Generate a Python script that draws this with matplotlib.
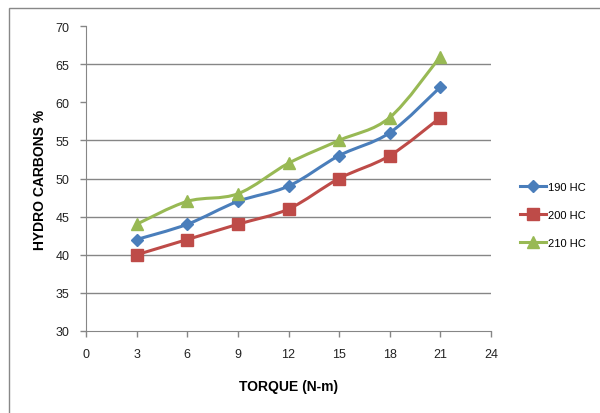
import matplotlib
matplotlib.use("Agg")
import matplotlib.pyplot as plt
from matplotlib.path import Path
from matplotlib.patches import PathPatch, Rectangle
from matplotlib.lines import Line2D

torque = [3, 6, 9, 12, 15, 18, 21]
hc190 = [42, 44, 47, 49, 53, 56, 62]
hc200 = [40, 42, 44, 46, 50, 53, 58]
hc210 = [44, 47, 48, 52, 55, 58, 66]
labels = ["190 HC", "200 HC", "210 HC"]
xticks = [0, 3, 6, 9, 12, 15, 18, 21, 24]
yticks = [30, 35, 40, 45, 50, 55, 60, 65, 70]
grid_vals = [35, 40, 45, 50, 55, 65]

colors = ["#4A7EBB", "#BE4B48", "#98B954"]
markers = ["D", "s", "^"]
msizes = [6, 8, 8]

fig = plt.figure(figsize=(6, 4.14), dpi=100)
fig.patches.append(Rectangle((9/600, -0.02), 1.0, 1 - 9/414 + 0.02,
                             transform=fig.transFigure, fill=False,
                             edgecolor="#888888", lw=1.0))
ax = fig.add_axes([86/600, 1 - 332/414, (491 - 86)/600, (332 - 27)/414])
ax.set_xlim(0, 24)
ax.set_ylim(30, 70)

for g in grid_vals:
    ax.axhline(g, color="#868686", lw=1.0, zorder=1)


def smooth_path(xs, ys, t=1/6):
    verts = [(xs[0], ys[0])]
    codes = [Path.MOVETO]
    n = len(xs)
    for i in range(n - 1):
        x0, y0 = xs[max(i - 1, 0)], ys[max(i - 1, 0)]
        x1, y1 = xs[i], ys[i]
        x2, y2 = xs[i + 1], ys[i + 1]
        x3, y3 = xs[min(i + 2, n - 1)], ys[min(i + 2, n - 1)]
        c1 = (x1 + (x2 - x0) * t, y1 + (y2 - y0) * t)
        c2 = (x2 - (x3 - x1) * t, y2 - (y3 - y1) * t)
        verts += [c1, c2, (x2, y2)]
        codes += [Path.CURVE4] * 3
    return Path(verts, codes)


handles = []
for ys, c, m, ms, lab in zip([hc190, hc200, hc210], colors, markers, msizes, labels):
    ax.add_patch(PathPatch(smooth_path(torque, ys), facecolor="none",
                           edgecolor=c, lw=2.2, zorder=3))
    ax.plot(torque, ys, linestyle="none", marker=m, ms=ms, color=c, zorder=4)
    handles.append(Line2D([], [], color=c, lw=2.2, marker=m, ms=ms))

ax.set_xticks(xticks)
ax.set_yticks(yticks)
for s in ["top", "right"]:
    ax.spines[s].set_visible(False)
for s in ["left", "bottom"]:
    ax.spines[s].set_color("#868686")
ax.tick_params(axis="both", colors="#868686", labelcolor="#222222",
               labelsize=9, length=4, width=1)
ax.tick_params(axis="x", pad=8)
ax.tick_params(axis="y", pad=8)
for lbl in ax.get_xticklabels() + ax.get_yticklabels():
    lbl.set_fontfamily("Liberation Sans")

ax.set_xlabel("TORQUE (N-m)", fontsize=10, fontweight="bold",
              fontfamily="Liberation Sans", labelpad=14)
ax.set_ylabel("HYDRO CARBONS %", fontsize=10, fontweight="bold",
              fontfamily="Liberation Sans", labelpad=6)

fig.legend(handles, labels, loc="upper left", bbox_to_anchor=(510/600, 1 - 173/414),
           frameon=False, handlelength=2.3, labelspacing=1.6,
           handletextpad=0.2, prop={"family": "Liberation Sans", "size": 8})

fig.savefig("out.png", dpi=100)
